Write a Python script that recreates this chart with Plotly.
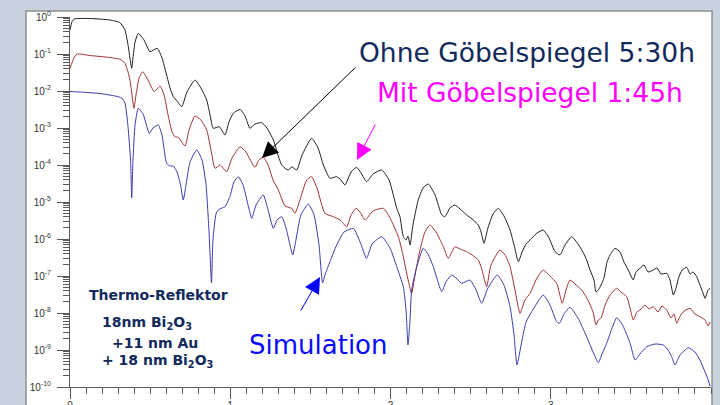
import plotly.graph_objects as go

# ---- data (x: scattering angle, y: log10 of reflectivity) ----
black_x = [0, 0.012, 0.025, 0.125, 0.250, 0.312, 0.343, 0.364, 0.374, 0.385, 0.393, 0.406, 0.426, 0.462, 0.499,
           0.545, 0.574, 0.603, 0.624, 0.645, 0.668, 0.697, 0.730, 0.780, 0.817, 0.853, 0.874, 0.894, 0.932, 0.967,
           0.992, 1.019, 1.061, 1.092, 1.123, 1.154, 1.196, 1.229, 1.269, 1.298, 1.321, 1.348, 1.362, 1.385, 1.415,
           1.448, 1.508, 1.548, 1.581, 1.622, 1.664, 1.691, 1.716, 1.754, 1.789, 1.816, 1.851, 1.891, 1.945, 1.991,
           2.039, 2.059, 2.080, 2.097, 2.109, 2.122, 2.140, 2.173, 2.203, 2.236, 2.278, 2.320, 2.340, 2.371, 2.402,
           2.434, 2.475, 2.509, 2.548, 2.565, 2.583, 2.608, 2.640, 2.673, 2.708, 2.746, 2.771, 2.798, 2.821, 2.846,
           2.881, 2.914, 2.953, 2.989, 3.027, 3.058, 3.089, 3.131, 3.170, 3.201, 3.224, 3.245, 3.270, 3.282, 3.297,
           3.314, 3.332, 3.351, 3.370, 3.401, 3.432, 3.457, 3.484, 3.501, 3.515, 3.532, 3.557, 3.582, 3.607, 3.640,
           3.663, 3.688, 3.724, 3.744, 3.765, 3.782, 3.797, 3.820, 3.849, 3.869, 3.888, 3.911, 3.931, 3.950, 3.963,
           3.982, 3.994]
black_log10 = [-0.351, -0.135, -0.054, -0.041, -0.081, -0.154, -0.351, -0.803, -1.108, -1.386, -1.108, -0.676, -0.441,
               -0.622, -0.938, -0.846, -1.108, -1.568, -1.919, -2.154, -2.270, -2.424, -2.027, -1.703, -1.919, -2.243,
               -2.649, -3.008, -2.965, -3.189, -2.838, -2.603, -2.495, -2.676, -3.008, -2.892, -2.857, -3.0, -3.324,
               -3.730, -4.0, -4.108, -4.135, -4.054, -4.135, -3.730, -3.278, -3.541, -4.0, -4.359, -4.316, -4.405,
               -4.541, -4.189, -4.062, -4.216, -4.451, -4.243, -4.135, -4.405, -5.170, -5.397, -5.938, -6.027, -5.919,
               -6.162, -5.622, -4.946, -4.622, -4.514, -4.811, -5.351, -5.397, -5.162, -5.081, -5.189, -5.351, -5.459,
               -5.622, -5.811, -6.116, -5.703, -5.324, -5.170, -5.378, -5.757, -6.162, -6.614, -6.351, -6.135, -5.981,
               -5.838, -5.757, -5.973, -6.343, -6.432, -6.162, -5.938, -6.135, -6.351, -6.568, -6.838, -7.108, -7.432,
               -7.378, -7.243, -7.054, -6.622, -6.432, -6.251, -6.351, -6.622, -6.838, -7.0, -7.108, -6.892, -6.792,
               -6.703, -6.892, -6.838, -6.784, -6.946, -6.927, -7.108, -7.514, -7.324, -7.062, -6.838, -6.765, -6.946,
               -6.892, -7.019, -7.243, -7.459, -7.603, -7.378, -7.332]

red_x = [0, 0.012, 0.031, 0.046, 0.125, 0.250, 0.312, 0.343, 0.362, 0.374, 0.387, 0.399, 0.412, 0.431, 0.454, 0.487,
         0.526, 0.562, 0.587, 0.612, 0.637, 0.655, 0.676, 0.693, 0.718, 0.743, 0.780, 0.817, 0.853, 0.880, 0.905,
         0.936, 0.978, 1.011, 1.061, 1.098, 1.154, 1.179, 1.206, 1.236, 1.267, 1.300, 1.342, 1.383, 1.404, 1.435,
         1.477, 1.508, 1.541, 1.591, 1.643, 1.685, 1.727, 1.754, 1.785, 1.810, 1.841, 1.891, 1.955, 1.997, 2.049,
         2.078, 2.103, 2.132, 2.153, 2.184, 2.215, 2.246, 2.284, 2.330, 2.361, 2.402, 2.434, 2.475, 2.509, 2.548,
         2.571, 2.600, 2.627, 2.683, 2.715, 2.746, 2.777, 2.808, 2.839, 2.871, 2.914, 2.953, 2.995, 3.037, 3.072,
         3.095, 3.120, 3.158, 3.193, 3.232, 3.264, 3.282, 3.297, 3.314, 3.339, 3.370, 3.412, 3.438, 3.474, 3.495,
         3.515, 3.538, 3.557, 3.588, 3.613, 3.640, 3.669, 3.694, 3.724, 3.750, 3.769, 3.786, 3.807, 3.832, 3.869,
         3.900, 3.931, 3.963, 3.982, 3.994]
red_log10 = [-1.386, -1.243, -1.054, -1.0, -1.041, -1.095, -1.143, -1.251, -1.486, -1.703, -2.108, -2.468, -2.108,
             -1.649, -1.478, -1.703, -2.019, -1.865, -2.108, -2.649, -3.108, -3.235, -3.251, -3.351, -3.486, -3.054,
             -2.676, -2.784, -3.054, -3.595, -4.089, -4.0, -4.181, -3.811, -3.505, -3.649, -4.062, -3.865, -3.792,
             -4.0, -4.405, -4.676, -5.108, -5.170, -5.305, -4.946, -4.405, -4.316, -4.622, -5.305, -5.397, -5.486,
             -5.668, -5.351, -5.170, -5.270, -5.486, -5.243, -5.170, -5.432, -5.938, -6.432, -6.973, -7.468, -6.973,
             -6.297, -5.811, -5.622, -5.811, -6.208, -6.522, -6.208, -6.270, -6.343, -6.432, -6.568, -6.838, -7.289,
             -6.703, -6.297, -6.432, -6.749, -7.378, -8.008, -7.649, -7.468, -7.054, -6.838, -7.0, -7.197, -7.738,
             -7.378, -7.108, -7.243, -7.378, -7.649, -7.973, -8.324, -8.189, -8.135, -7.784, -7.514, -7.332, -7.432,
             -7.559, -7.865, -8.189, -7.973, -7.919, -7.784, -7.892, -7.830, -7.973, -7.811, -7.919, -8.135, -8.027,
             -8.278, -8.081, -7.946, -7.873, -8.027, -8.100, -8.189, -8.351, -8.243]

blue_x = [0, 0.062, 0.187, 0.281, 0.323, 0.343, 0.362, 0.378, 0.385, 0.393, 0.406, 0.426, 0.456, 0.495, 0.518,
          0.551, 0.574, 0.603, 0.624, 0.645, 0.668, 0.690, 0.707, 0.724, 0.749, 0.791, 0.824, 0.849, 0.867, 0.883,
          0.892, 0.911, 0.925, 0.949, 0.967, 0.998, 1.023, 1.050, 1.080, 1.111, 1.134, 1.161, 1.206, 1.236, 1.269,
          1.292, 1.321, 1.348, 1.373, 1.390, 1.410, 1.441, 1.487, 1.523, 1.554, 1.576, 1.591, 1.622, 1.664, 1.710,
          1.768, 1.810, 1.851, 1.885, 1.945, 1.997, 2.039, 2.080, 2.097, 2.109, 2.122, 2.132, 2.164, 2.205, 2.234,
          2.267, 2.320, 2.346, 2.382, 2.409, 2.444, 2.496, 2.534, 2.569, 2.608, 2.666, 2.708, 2.746, 2.771, 2.789,
          2.819, 2.846, 2.881, 2.953, 2.995, 3.037, 3.053, 3.083, 3.120, 3.170, 3.224, 3.264, 3.297, 3.320, 3.349,
          3.412, 3.451, 3.495, 3.526, 3.557, 3.599, 3.651, 3.702, 3.732, 3.755, 3.775, 3.807, 3.858, 3.900, 3.931,
          3.963, 3.983, 3.994]
blue_log10 = [-2.014, -2.027, -2.068, -2.135, -2.189, -2.324, -2.965, -3.865, -4.892, -3.865, -2.919, -2.468, -2.622,
              -3.143, -3.0, -2.919, -3.189, -3.954, -4.027, -4.027, -4.189, -4.541, -4.946, -4.541, -3.919, -3.595,
              -3.865, -4.541, -5.757, -7.189, -6.027, -5.324, -5.216, -5.162, -5.127, -4.857, -4.459, -4.316, -4.541,
              -5.081, -5.441, -5.081, -4.811, -5.216, -5.711, -5.486, -5.397, -5.703, -6.162, -6.432, -6.027, -5.351,
              -5.054, -5.351, -6.162, -7.189, -6.973, -6.614, -6.162, -5.811, -5.711, -6.081, -6.522, -6.135, -5.938,
              -6.243, -6.749, -7.289, -7.919, -8.865, -8.189, -7.378, -6.749, -6.251, -6.405, -6.749, -7.424, -7.162,
              -6.973, -7.054, -7.197, -7.108, -7.378, -7.738, -7.324, -6.973, -7.243, -7.830, -8.595, -9.405, -8.776,
              -8.243, -7.965, -7.514, -7.784, -8.235, -8.278, -8.027, -7.846, -8.135, -8.641, -9.054, -9.343, -9.108,
              -8.819, -8.127, -8.351, -8.819, -9.270, -9.108, -8.911, -8.838, -8.865, -9.0, -9.181, -9.405, -9.135,
              -8.938, -9.054, -9.270, -9.595, -9.811, -9.973]

y_tickvals = [1e0, 1e-1, 1e-2, 1e-3, 1e-4, 1e-5, 1e-6, 1e-7, 1e-8, 1e-9, 1e-10]
y_ticktext = ["10<sup>0</sup>", "10<sup>-1</sup>", "10<sup>-2</sup>", "10<sup>-3</sup>", "10<sup>-4</sup>",
              "10<sup>-5</sup>", "10<sup>-6</sup>", "10<sup>-7</sup>", "10<sup>-8</sup>", "10<sup>-9</sup>",
              "10<sup>-10</sup>"]
x_tickvals = [0, 1, 2, 3]
x_ticktext = ["0", "1", "2", "3"]

label_ohne = "Ohne Göbelspiegel 5:30h"
label_mit = "Mit Göbelspiegel 1:45h"
label_sim = "Simulation"
sample_title = "Thermo-Reflektor"
sample_layers = ["18nm Bi<sub>2</sub>O<sub>3</sub>", "+11 nm Au", "+ 18 nm Bi<sub>2</sub>O<sub>3</sub>"]


def to_r(vals):
    return [10 ** v for v in vals]


fig = go.Figure()
fig.add_trace(go.Scatter(x=black_x, y=to_r(black_log10), mode="lines",
                         line=dict(color="#1e1e1e", width=1, shape="spline", smoothing=0.5),
                         showlegend=False, hoverinfo="skip"))
fig.add_trace(go.Scatter(x=red_x, y=to_r(red_log10), mode="lines",
                         line=dict(color="#a33030", width=1, shape="spline", smoothing=0.5),
                         showlegend=False, hoverinfo="skip"))
fig.add_trace(go.Scatter(x=blue_x, y=to_r(blue_log10), mode="lines",
                         line=dict(color="#3a3ab0", width=1, shape="spline", smoothing=0.5),
                         showlegend=False, hoverinfo="skip"))

# slide frame (white chart object on the bluish slide background)
fig.add_shape(type="rect", xref="paper", yref="paper", x0=-0.0686, x1=1.0016, y0=-0.08, y1=1.0162,
              fillcolor="white", line=dict(color="#8f8f8f", width=1.5), layer="below")

fig.update_layout(
    width=720, height=405,
    margin=dict(l=70, r=9, t=17, b=18, pad=0, autoexpand=False),
    paper_bgcolor="#c8d2df",
    plot_bgcolor="rgba(0,0,0,0)",
    showlegend=False,
    xaxis=dict(range=[0, 4], automargin=False, showgrid=False, zeroline=False, showline=True,
               linecolor="#5a5a5a", linewidth=1,
               ticks="outside", ticklen=11, tickcolor="#5a5a5a", tickvals=x_tickvals, ticktext=x_ticktext,
               ticklabelstandoff=-2,
               tickfont=dict(family="Liberation Sans", size=10, color="#333333"),
               minor=dict(ticks="outside", ticklen=6, tickcolor="#5a5a5a", dtick=0.1, showgrid=False)),
    yaxis=dict(type="log", range=[-10, 0], automargin=False, showgrid=False, zeroline=False, showline=True,
               linecolor="#5a5a5a",
               linewidth=1, ticks="outside", ticklen=12, tickcolor="#5a5a5a", tickvals=y_tickvals,
               ticktext=y_ticktext, ticklabelstandoff=4,
               tickfont=dict(family="Liberation Sans", size=10, color="#333333"),
               minor=dict(ticks="outside", ticklen=6, tickcolor="#5a5a5a", dtick="D1", showgrid=False)),
)

navy = "#112a5c"
anns = []
# arrows
anns.append(dict(x=1.198, y=-3.811, xref="x", yref="y", ax=95, ay=-92, axref="pixel", ayref="pixel", text="",
                 showarrow=True, arrowhead=2, arrowsize=3.2, arrowwidth=1, arrowcolor="black"))
anns.append(dict(x=1.791, y=-3.865, xref="x", yref="y", ax=19, ay=-37, text="",
                 showarrow=True, arrowhead=2, arrowsize=3.2, arrowwidth=1, arrowcolor="#ff00ff"))
anns.append(dict(x=1.560, y=-7.027, xref="x", yref="y", ax=-20, ay=35, text="",
                 showarrow=True, arrowhead=2, arrowsize=3.2, arrowwidth=1, arrowcolor="#0000ff"))
# labels
anns.append(dict(x=0.4477, y=0.905, xref="paper", yref="paper", text=label_ohne, showarrow=False,
                 xanchor="left", yanchor="middle", font=dict(family="DejaVu Sans", size=26.5, color=navy)))
anns.append(dict(x=0.4758, y=0.795, xref="paper", yref="paper", text=label_mit, showarrow=False,
                 xanchor="left", yanchor="middle", font=dict(family="DejaVu Sans", size=26.5, color="#ff00ff")))
anns.append(dict(x=0.2761, y=0.1135, xref="paper", yref="paper", text=label_sim, showarrow=False,
                 xanchor="left", yanchor="middle", font=dict(family="DejaVu Sans", size=26, color="#0a0aff")))
anns.append(dict(x=0.0265, y=0.2486, xref="paper", yref="paper", text=sample_title, showarrow=False,
                 xanchor="left", yanchor="middle", font=dict(family="DejaVu Sans", size=14, color=navy, weight="bold")))
layer_pos = [(0.0468, 0.173), (0.0624, 0.119), (0.0468, 0.070)]
for (px, py), t in zip(layer_pos, sample_layers):
    anns.append(dict(x=px, y=py, xref="paper", yref="paper", text=t, showarrow=False,
                     xanchor="left", yanchor="middle",
                     font=dict(family="DejaVu Sans", size=14, color=navy, weight="bold")))
fig.update_layout(annotations=anns)

fig.write_html("out.html", config={"displayModeBar": False},
               post_script="document.body.style.margin='0';document.body.style.background='#c8d2df';")
